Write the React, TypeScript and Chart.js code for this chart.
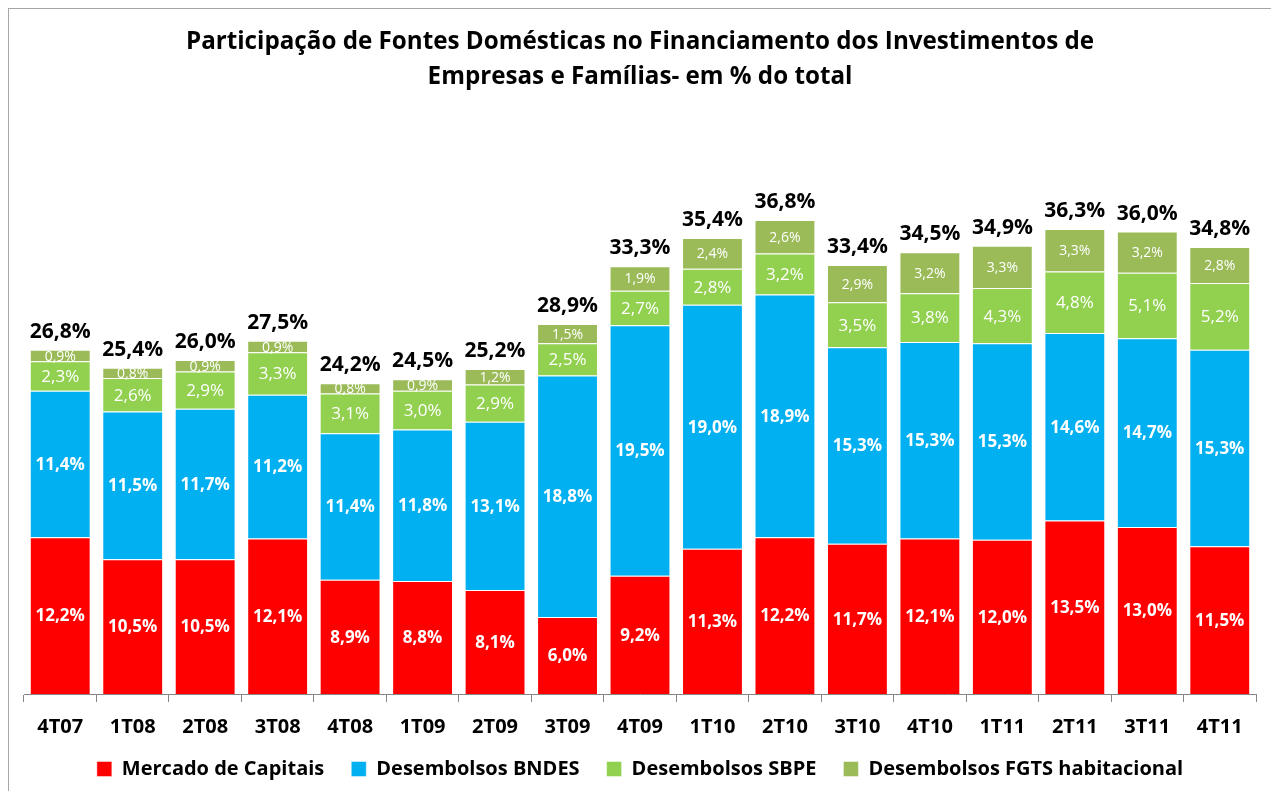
import React, { useEffect, useRef } from "react";
import { Chart, registerables } from "chart.js";

Chart.register(...registerables);

const categories = ["4T07", "1T08", "2T08", "3T08", "4T08", "1T09", "2T09", "3T09", "4T09", "1T10", "2T10", "3T10", "4T10", "1T11", "2T11", "3T11", "4T11"];
const mercadoCapitais = [12.2, 10.5, 10.5, 12.1, 8.9, 8.8, 8.1, 6.0, 9.2, 11.3, 12.2, 11.7, 12.1, 12.0, 13.5, 13.0, 11.5];
const bndes = [11.4, 11.5, 11.7, 11.2, 11.4, 11.8, 13.1, 18.8, 19.5, 19.0, 18.9, 15.3, 15.3, 15.3, 14.6, 14.7, 15.3];
const sbpe = [2.3, 2.6, 2.9, 3.3, 3.1, 3.0, 2.9, 2.5, 2.7, 2.8, 3.2, 3.5, 3.8, 4.3, 4.8, 5.1, 5.2];
const fgts = [0.9, 0.8, 0.9, 0.9, 0.8, 0.9, 1.2, 1.5, 1.9, 2.4, 2.6, 2.9, 3.2, 3.3, 3.3, 3.2, 2.8];
const totals = [26.8, 25.4, 26.0, 27.5, 24.2, 24.5, 25.2, 28.9, 33.3, 35.4, 36.8, 33.4, 34.5, 34.9, 36.3, 36.0, 34.8];

const seriesNames = ["Mercado de Capitais", "Desembolsos BNDES", "Desembolsos SBPE", "Desembolsos FGTS habitacional"];
const seriesColors = ["#FF0000", "#00B0F0", "#92D050", "#9BBB59"];
const titleLines = ["Participação de Fontes Domésticas no Financiamento dos Investimentos de", "Empresas e Famílias- em % do total"];

const FONT = "'Open Sans', 'DejaVu Sans', sans-serif";

const fmt = (v: number) => v.toFixed(1).replace(".", ",") + "%";

const labelPlugin = {
  id: "segLabels",
  afterDatasetsDraw(chart: any) {
    const ctx = chart.ctx;
    ctx.save();
    ctx.textAlign = "center";
    ctx.textBaseline = "middle";
    chart.data.datasets.forEach((ds: any, di: number) => {
      const meta = chart.getDatasetMeta(di);
      meta.data.forEach((bar: any, i: number) => {
        const v = ds.data[i];
        const cy = (bar.y + bar.base) / 2;
        if (di === 0 || di === 1) ctx.font = `bold 17px ${FONT}`;
        else if (di === 2) ctx.font = `17px ${FONT}`;
        else ctx.font = `14px ${FONT}`;
        ctx.fillStyle = "#FFFFFF";
        ctx.fillText(fmt(v), bar.x, cy + 1);
      });
    });
    const last = chart.getDatasetMeta(chart.data.datasets.length - 1);
    ctx.font = `bold 21px ${FONT}`;
    ctx.fillStyle = "#000000";
    ctx.textBaseline = "alphabetic";
    last.data.forEach((bar: any, i: number) => {
      ctx.fillText(fmt(totals[i]), bar.x, bar.y - 12);
    });
    ctx.restore();
  },
};

export default function App() {
  const ref = useRef<HTMLCanvasElement>(null);
  useEffect(() => {
    if (!ref.current) return;
    const datasets = [mercadoCapitais, bndes, sbpe, fgts].map((d, i) => ({
      label: seriesNames[i],
      data: d,
      backgroundColor: seriesColors[i],
      borderColor: "rgba(255,255,255,0.45)",
      borderWidth: 1,
      barPercentage: 0.84,
      categoryPercentage: 1,
    }));
    const chart = new Chart(ref.current, {
      type: "bar",
      data: { labels: categories, datasets },
      options: {
        animation: false,
        responsive: false,
        layout: { padding: { left: 15, right: 17, top: 0, bottom: 10 } },
        plugins: {
          title: {
            display: true,
            text: titleLines,
            color: "#000",
            font: { family: FONT, size: 24.2, weight: "bold", lineHeight: 1.44 },
            padding: { top: 16, bottom: 85.5 },
          },
          legend: {
            position: "bottom",
            labels: {
              color: "#000",
              font: { family: FONT, size: 20, weight: "bold" },
              boxWidth: 15,
              boxHeight: 15,
              padding: 27,
            },
          },
          tooltip: { enabled: false },
        },
        scales: {
          x: {
            stacked: true,
            grid: { display: true, drawOnChartArea: false, drawTicks: true, tickLength: 8, color: "#868686" },
            border: { display: true, color: "#868686" },
            ticks: { color: "#000", font: { family: FONT, size: 20, weight: "bold" }, padding: 13 },
            afterFit: (scale: any) => {
              scale.height = scale.height - 20;
              scale._computeLabelArea = () => undefined;
            },
          },
          y: { stacked: true, display: false, min: 0, max: 40 },
        },
      },
      plugins: [labelPlugin],
    });
    return () => chart.destroy();
  }, []);
  return (
    <div style={{ border: "1px solid #A6A6A6", width: 1264, height: 790, background: "#fff" }}>
      <canvas ref={ref} width={1264} height={790} style={{ display: "block" }} />
    </div>
  );
}
